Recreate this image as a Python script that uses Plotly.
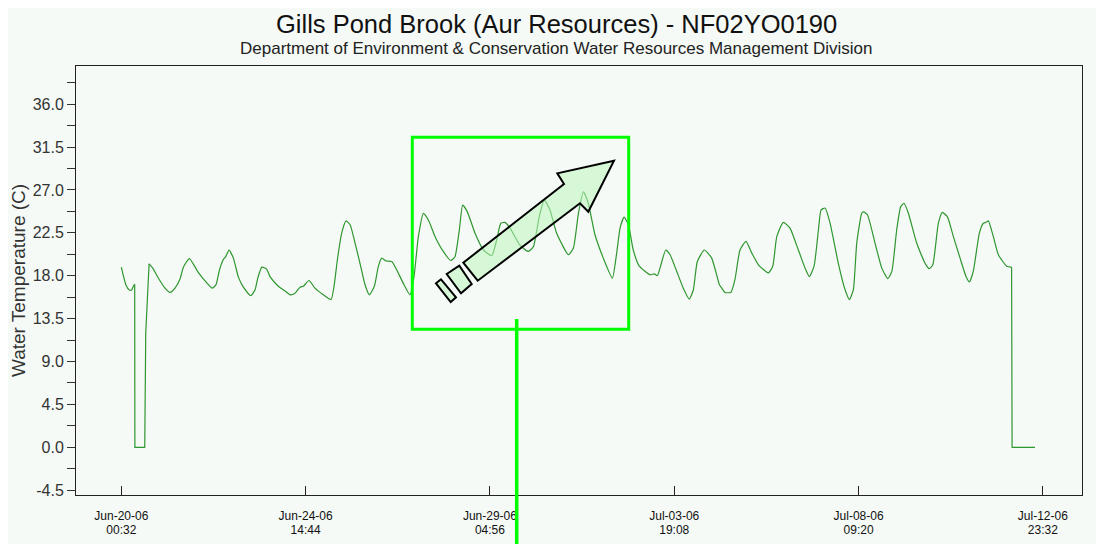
import plotly.graph_objects as go
import pandas as pd

# ---------------- data ----------------
START = "2006-06-20 00:32"
hours = [0.0, 2.8, 4.8, 6.2, 7.2, 8.0, 8.1, 14.0, 14.6, 16.6, 18.8, 22.1, 26.1, 29.1, 32.1,
         35.1, 37.1, 40.7, 46.0, 51.1, 54.4, 56.6, 58.6, 61.0, 62.4, 64.4, 67.0, 70.0, 73.0,
         77.4, 79.9, 81.6, 84.0, 86.9, 88.9, 93.9, 97.9, 100.9, 103.4, 106.9, 108.8, 112.2,
         115.8, 120.8, 125.4, 127.2, 129.2, 131.8, 134.4, 136.8, 139.8, 142.7, 145.7, 148.3,
         151.3, 153.7, 155.7, 158.3, 161.7, 164.7, 168.6, 172.6, 175.0, 177.6, 180.6, 183.6,
         187.6, 192.5, 197.0, 199.5, 202.1, 204.1, 206.9, 211.5, 216.5, 221.5, 224.5, 226.9,
         229.4, 232.4, 238.4, 243.4, 246.4, 249.9, 252.9, 256.3, 260.3, 267.3, 270.3, 273.3,
         276.3, 279.2, 283.2, 288.2, 293.6, 296.2, 298.2, 300.6, 303.2, 306.1, 309.7, 316.1,
         318.7, 320.5, 322.1, 325.5, 328.1, 332.1, 336.0, 339.6, 342.0, 344.4, 348.6, 353.0,
         357.6, 359.0, 361.0, 364.4, 366.9, 369.9, 373.5, 376.9, 380.9, 386.9, 389.5, 391.9,
         395.8, 399.8, 404.8, 408.8, 411.4, 414.2, 416.8, 418.4, 420.8, 423.8, 428.7, 432.7,
         435.3, 437.7, 439.7, 442.7, 443.8, 446.1, 450.7, 454.7, 458.3, 460.7, 463.6, 466.0,
         468.0, 470.6, 475.6, 480.6, 483.1, 485.2, 488.5, 490.9, 493.9, 497.5, 501.5, 505.1,
         507.1, 509.4, 513.0, 515.4, 517.0, 518.4, 521.4, 524.4, 529.4, 532.3, 532.6, 546.3]
temps = [18.9, 17.0, 16.5, 16.5, 16.9, 17.1, 0.0, 0.0, 12.0, 19.25, 18.8, 17.76, 16.7, 16.25, 16.7,
         17.65, 18.9, 19.8, 18.35, 17.25, 16.7, 17.05, 18.55, 19.7, 20.0, 20.7, 19.85, 17.85, 16.8,
         15.9, 16.5, 17.75, 18.9, 18.7, 17.9, 16.9, 16.4, 16.0, 16.1, 16.8, 16.9, 17.5,
         16.7, 16.0, 15.5, 16.9, 19.7, 22.5, 23.75, 23.35, 21.4, 19.3, 17.05, 16.0,
         16.9, 19.0, 19.85, 19.55, 19.5, 18.6, 17.2, 16.0, 17.9, 22.1, 24.55, 23.85,
         22.1, 20.55, 19.6, 20.0, 22.8, 25.4, 24.7, 22.45, 20.7, 20.1, 21.8, 23.5,
         23.6, 23.0, 21.2, 20.55, 21.05, 24.2, 25.95, 24.9, 22.45, 20.2, 20.9, 24.55,
         26.8, 25.6, 22.3, 19.85, 17.75, 20.4, 23.0, 24.15, 23.35, 20.7, 19.0, 18.1,
         18.2, 18.0, 18.8, 20.7, 20.2, 18.45, 16.7, 15.55, 16.5, 19.5, 20.7, 19.85,
         17.05, 16.7, 16.25, 16.25, 17.6, 20.7, 21.6, 20.4, 19.15, 18.3, 19.0, 22.1,
         23.6, 23.0, 20.7, 18.8, 17.9, 19.0, 22.8, 24.9, 25.1, 23.5, 19.3, 16.55,
         15.5, 16.55, 21.4, 24.55, 24.7, 24.4, 21.4, 18.8, 17.7, 18.45, 22.8, 25.25,
         25.6, 24.55, 21.4, 19.3, 18.75, 19.15, 23.5, 24.65, 24.2, 22.1, 19.85, 17.9,
         17.35, 18.45, 22.45, 23.5, 23.6, 23.75, 22.1, 20.2, 19.0, 18.9, 0.0, 0.0]

tick_times = ["2006-06-20 00:32", "2006-06-24 14:44", "2006-06-29 04:56",
              "2006-07-03 19:08", "2006-07-08 09:20", "2006-07-12 23:32"]
tick_dates = ["Jun-20-06", "Jun-24-06", "Jun-29-06", "Jul-03-06", "Jul-08-06", "Jul-12-06"]
tick_clock = ["00:32", "14:44", "04:56", "19:08", "09:20", "23:32"]
y_ticks = [-4.5, 0.0, 4.5, 9.0, 13.5, 18.0, 22.5, 27.0, 31.5, 36.0]
x_range_hours = [-27.1, 574.4]
y_range = [-5, 40]

# ---------------- build ----------------
t0 = pd.Timestamp(START)
times = [t0 + pd.Timedelta(hours=h) for h in hours]
xr = [t0 + pd.Timedelta(hours=h) for h in x_range_hours]

BG = "#f5faf6"
OFF = 8                      # page body margin of the html
W, H = 1104 - OFF, 544 - OFF
ML = 76 - OFF
MT = 66 - OFF
MR = W - (1082 - OFF)
MB = H - (495 - OFF)
PW, PH = W - ML - MR, H - MT - MB


def P(px, py):
    """screen pixel -> paper coordinate"""
    return (px - OFF - ML) / PW, (H - MB - (py - OFF)) / PH


fig = go.Figure()
LINE_COLOR = "#2e962e"
n = len(hours)
# the logger drop-outs are drawn with straight segments, the diurnal record smoothed
segments = [(0, 5, "spline"), (5, 9, "linear"), (9, n - 3, "spline"), (n - 3, n - 1, "linear")]
for a, b, shape in segments:
    fig.add_trace(go.Scatter(x=times[a:b + 1], y=temps[a:b + 1], mode="lines",
                             line=dict(color=LINE_COLOR, width=1.2, shape=shape,
                                       **({"smoothing": 0.5} if shape == "spline" else {})),
                             showlegend=False, hoverinfo="x+y"))
# carrier for the second line of the date labels
fig.add_trace(go.Scatter(x=[times[0]], y=[None], xaxis="x2", mode="lines",
                         showlegend=False, hoverinfo="skip"))

font_main = "Liberation Sans, Arial, sans-serif"
tick_font_x = "Liberation Sans Narrow, Arial Narrow, Liberation Sans, Arial"

fig.update_layout(
    width=W, height=H,
    margin=dict(l=ML, r=MR, t=MT, b=MB, autoexpand=False),
    paper_bgcolor=BG, plot_bgcolor=BG,
    font=dict(family=font_main, color="#222"),
    xaxis=dict(type="date", range=xr, tickmode="array", tickvals=tick_times,
               ticktext=tick_dates, ticks="inside", ticklen=9, tickcolor="#222",
               tickfont=dict(size=12, family=tick_font_x, color="#111"),
               ticklabelstandoff=10, automargin=False,
               showline=True, linecolor="#222", linewidth=1, mirror=True,
               showgrid=False, zeroline=False),
    xaxis2=dict(type="date", range=xr, overlaying="x", anchor="y", side="bottom",
                tickmode="array", tickvals=tick_times, ticktext=tick_clock,
                ticks="", showline=False, showgrid=False, zeroline=False,
                tickfont=dict(size=12, family=tick_font_x, color="#111"),
                ticklabelstandoff=26, automargin=False),
    yaxis=dict(range=y_range, tickmode="array", tickvals=y_ticks,
               ticktext=[f"{v:.1f}" for v in y_ticks],
               ticks="outside", ticklen=8, tickcolor="#333",
               tickfont=dict(size=16, color="#333"),
               minor=dict(tick0=0, dtick=2.25, ticks="outside", ticklen=8, tickcolor="#333"),
               showline=True, linecolor="#222", linewidth=1, mirror=True,
               showgrid=False, zeroline=False, automargin=False,
               title=dict(text="Water Temperature (C)", font=dict(size=19, color="#333"), standoff=4)),
)

cx = 0.5 - (ML - MR) / 2 / PW
fig.add_annotation(text="Gills Pond Brook (Aur Resources) - NF02YO0190", xref="paper", yref="paper",
                   x=cx, y=P(0, 24)[1], showarrow=False, borderpad=0,
                   font=dict(size=25.5, color="#111"), xanchor="center", yanchor="middle")
fig.add_annotation(text="Department of Environment &amp; Conservation Water Resources Management Division",
                   xref="paper", yref="paper",
                   x=cx, y=P(0, 49)[1], showarrow=False, borderpad=0,
                   font=dict(size=17, color="#222"), xanchor="center", yanchor="middle")

# ---------------- overlay decoration (green box + arrow icon) ----------------
GREEN = "#00ff00"
x0, y0 = P(412.3, 329.3)
x1, y1 = P(628.7, 137.3)
fig.add_shape(type="rect", xref="paper", yref="paper", x0=x0, y0=y0, x1=x1, y1=y1,
              line=dict(color=GREEN, width=3), fillcolor="rgba(0,0,0,0)")
lx, ly0 = P(516.7, 319)
_, ly1 = P(516.7, 546)
fig.add_shape(type="line", xref="paper", yref="paper", x0=lx, y0=ly0, x1=lx, y1=ly1,
              line=dict(color=GREEN, width=3.5))


def poly(pts):
    s = ""
    for i, (a, b) in enumerate(pts):
        u, v = P(a, b)
        s += ("M" if i == 0 else "L") + f"{u:.5f},{v:.5f} "
    return s + "Z"


arrow = [(614, 160.7), (557.3, 173.3), (564, 184), (463.3, 262.7), (477.7, 280.7),
         (580, 203.3), (588.3, 211.7)]
block1 = [(446.7, 274), (459.3, 265.7), (471.7, 284), (461, 293.3)]
block2 = [(436, 283.3), (441, 279.3), (456, 297.3), (450.7, 302)]
for pts in (arrow, block1, block2):
    fig.add_shape(type="path", xref="paper", yref="paper", path=poly(pts),
                  fillcolor="rgba(190,245,190,0.55)", line=dict(color="#000", width=2))

fig.write_html("out.html")
